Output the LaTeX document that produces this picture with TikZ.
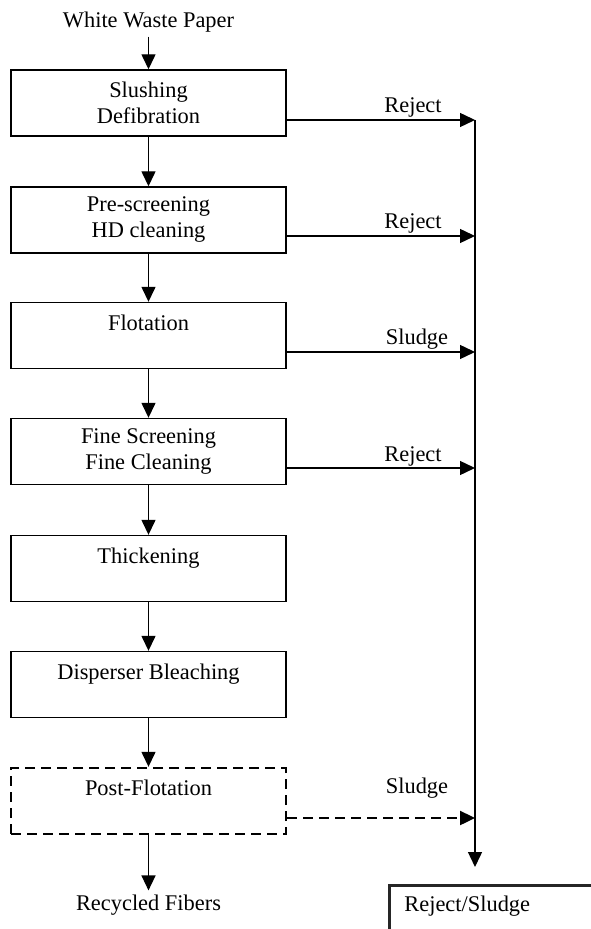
\documentclass[tikz,border=0pt]{standalone}
\usepackage{fontspec}
\setmainfont{Liberation Serif}
\usetikzlibrary{arrows.meta,calc}
\begin{document}
\begin{tikzpicture}[x=0.5pt,y=-0.5pt,
  font=\fontsize{11.2}{13}\selectfont,
  every node/.style={inner sep=2pt},
  procbox/.style={draw,line width=0.7pt,minimum width=137.5pt,minimum height=33pt,align=center,inner sep=0pt},
  dashbox/.style={procbox,dashed,line width=1.2pt,dash pattern=on 5pt off 3pt},
  flow/.style={line width=0.7pt,-{Triangle[length=7.5pt,width=7pt]}},
  dflow/.style={flow,line width=1.2pt,dash pattern=on 5pt off 3pt}]
\useasboundingbox (0,0) rectangle (590,929);

\node (wwp) at (148.5,22) {White Waste Paper};
\node[procbox] (b1) at (148.5,103) {Slushing\\Defibration};
\node[procbox] (b2) at (148.5,220) {Pre-screening\\HD cleaning};
\node[procbox] (b3) at (148.5,335.5) {Flotation\\\mbox{}};
\node[procbox] (b4) at (148.5,451.5) {Fine Screening\\Fine Cleaning};
\node[procbox] (b5) at (148.5,568.5) {Thickening\\\mbox{}};
\node[procbox] (b6) at (148.5,684.5) {Disperser Bleaching\\\mbox{}};
\node[dashbox] (b7) at (148.5,801) {Post-Flotation\\\mbox{}};
\node (rf) at (148.5,905) {Recycled Fibers};

\coordinate (j1) at (475,120);
\coordinate (j2) at (475,236);
\coordinate (j3) at (475,352);
\coordinate (j4) at (475,468);
\coordinate (j5) at (475,818);
\coordinate (jend) at (475,867);

\draw[flow] (wwp) -- (b1);
\draw[flow] (b1) -- (b2);
\draw[flow] (b2) -- (b3);
\draw[flow] (b3) -- (b4);
\draw[flow] (b4) -- (b5);
\draw[flow] (b5) -- (b6);
\draw[flow] (b6) -- (b7);
\draw[flow] (b7) -- (rf.north);

\draw[flow] (b1.east |- j1) -- (j1);
\draw[flow] (b2.east |- j2) -- (j2);
\draw[flow] (b3.east |- j3) -- (j3);
\draw[flow] (b4.east |- j4) -- (j4);
\draw[dflow] (b7.east |- j5) -- (j5);
\draw[flow] (j1) -- (jend);

\node (l1) at (413,107) {Reject};
\node (l2) at (413,223) {Reject};
\node (l3) at (417,339) {Sludge};
\node (l4) at (413,456) {Reject};
\node (l5) at (417,788) {Sludge};

\node[draw=black!85,line width=1.4pt,anchor=north west,minimum width=200pt,minimum height=40pt,inner sep=0pt] (rsbox) at (388,884) {};
\node[anchor=west,inner sep=0pt] (rstext) at (404,906) {Reject/Sludge};
\end{tikzpicture}
\end{document}
